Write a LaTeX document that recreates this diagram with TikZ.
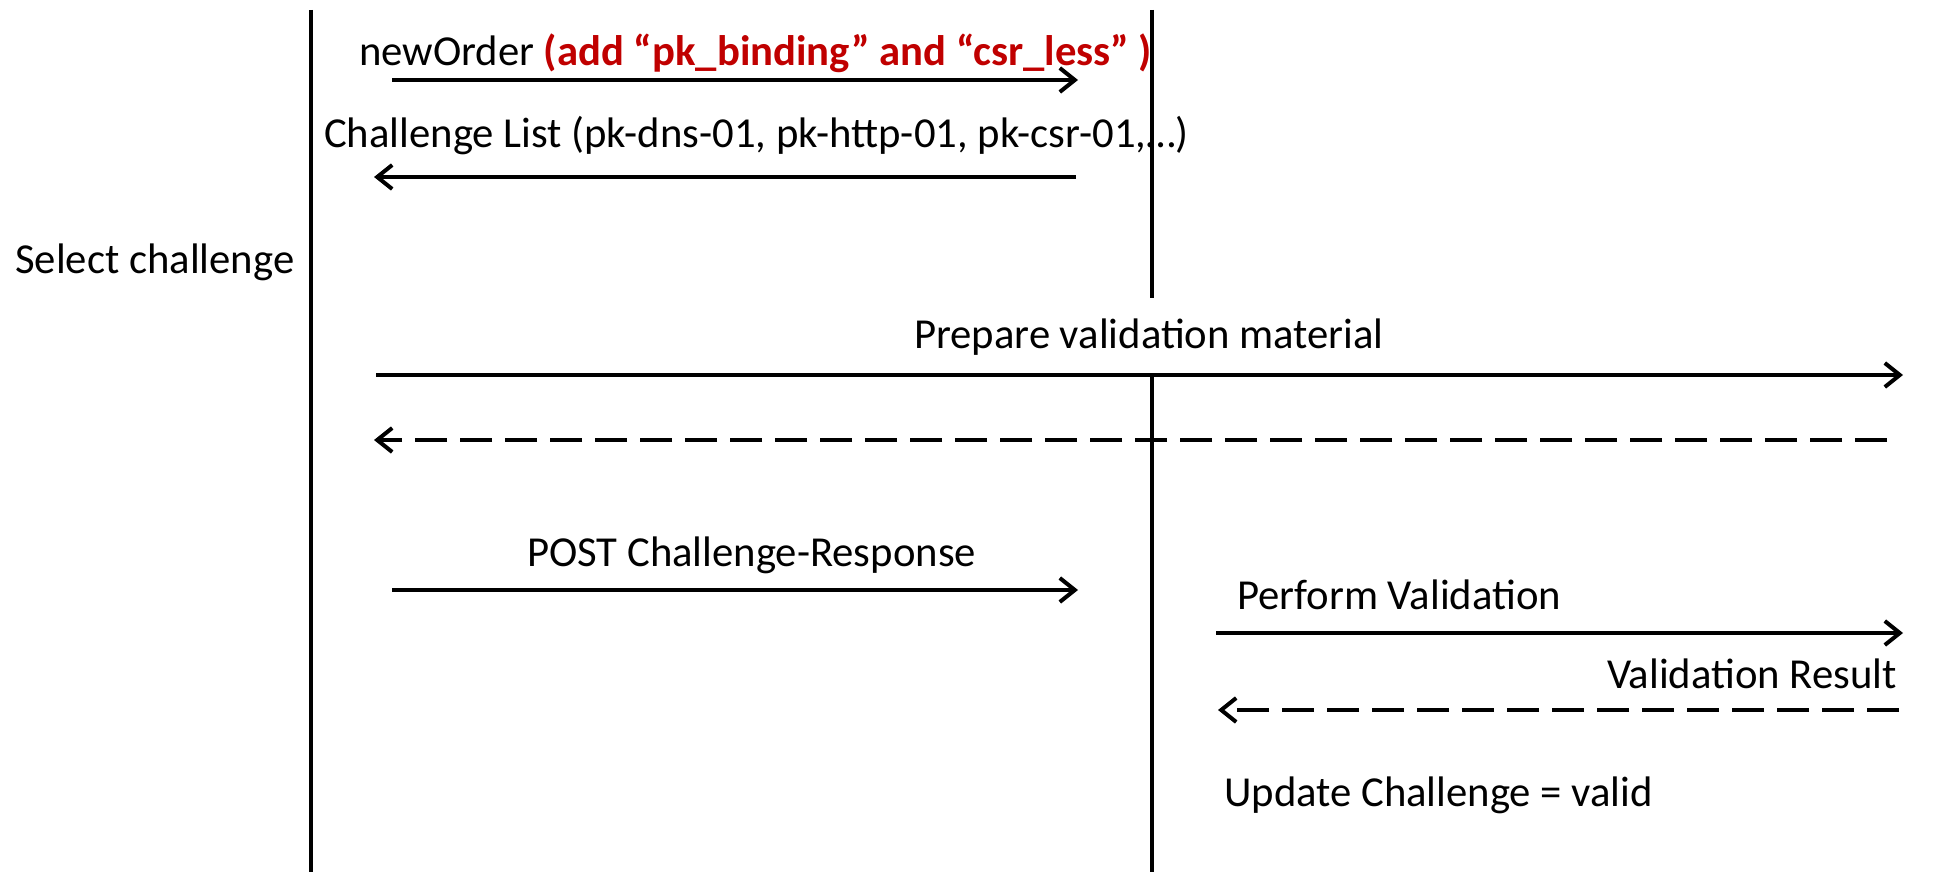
\documentclass[tikz,border=0pt]{standalone}
\usepackage{fontspec}
\setmainfont{Carlito}
\usetikzlibrary{arrows.meta}
\definecolor{darkred}{HTML}{C00000}
\begin{document}
\begin{tikzpicture}[x=1pt,y=-1pt,
  lbl/.style={font=\fontsize{42.7}{48}\selectfont, inner sep=0pt, text height=29pt, text depth=9pt},
  life/.style={line width=4pt},
  msg/.style={line width=4pt, -{Straight Barb[length=15pt,width=24pt,line width=4pt]}},
  reply/.style={msg, dash pattern=on 32pt off 13pt}]
\useasboundingbox (0,0) rectangle (1934,872);
% lifeline coordinates
\coordinate (l1t) at (311,10);
\coordinate (l1b) at (311,872);
\coordinate (l2t) at (1152,10);
\coordinate (l2m) at (1152,298);
\coordinate (l2n) at (1152,376);
\coordinate (l2b) at (1152,872);
% labels
\node[lbl, anchor=west] (t1) at (359,56) {newOrder \textcolor{darkred}{\textbf{(add “pk\_binding” and “csr\_less” )}}};
\node[lbl, anchor=west] (t2) at (324,137) {Challenge List (pk-dns-01, pk-http-01, pk-csr-01,…)};
\node[lbl, anchor=west] (t3) at (15,263) {Select challenge};
\node[lbl, anchor=west] (t4) at (914,338) {Prepare validation material};
\node[lbl, anchor=west] (t5) at (527,556) {POST Challenge-Response};
\node[lbl, anchor=west] (t6) at (1237,599) {Perform Validation};
\node[lbl, anchor=east] (t7) at (1897,678) {Validation Result};
\node[lbl, anchor=west] (t8) at (1224,796) {Update Challenge = valid};
% lifelines
\draw[life] (l1t) -- (l1b);
\draw[life] (l2t) -- (l2m);
\draw[life] (l2n) -- (l2b);
% message end points
\coordinate (a1s) at (392,80);   \coordinate (a1e) at (1078,80);
\coordinate (a2s) at (1076,177); \coordinate (a2e) at (374,177);
\coordinate (a3s) at (376,375);  \coordinate (a3e) at (1903,375);
\coordinate (a4s) at (1887,440); \coordinate (a4e) at (374,440);
\coordinate (a5s) at (392,590);  \coordinate (a5e) at (1078,590);
\coordinate (a6s) at (1216,633); \coordinate (a6e) at (1903,633);
\coordinate (a7s) at (1899,710); \coordinate (a7e) at (1218,710);
% messages
\draw[msg] (a1s) -- (a1e);
\draw[msg] (a2s) -- (a2e);
\draw[msg] (a3s) -- (a3e);
\draw[reply] (a4s) -- (a4e);
\draw[msg] (a5s) -- (a5e);
\draw[msg] (a6s) -- (a6e);
\draw[reply] (a7s) -- (a7e);
\end{tikzpicture}
\end{document}
